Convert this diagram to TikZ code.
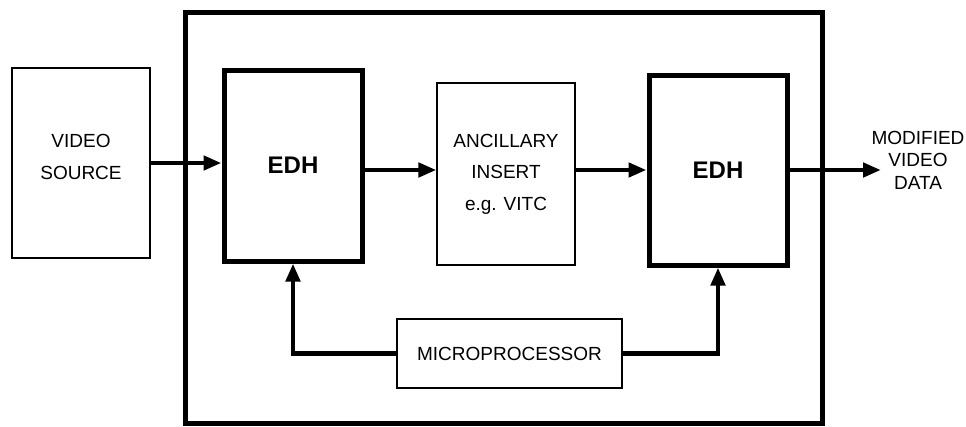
\documentclass[tikz,border=0pt]{standalone}
\usepackage{fontspec}
\setmainfont{Liberation Sans}
\usetikzlibrary{arrows.meta}
\begin{document}
\begin{tikzpicture}[x=1pt,y=-1pt,
  thinbox/.style={draw,line width=1.2pt,inner sep=0pt,align=center,font=\fontsize{19}{31.5}\selectfont},
  thickbox/.style={draw,line width=5pt,inner sep=0pt,align=center,font=\fontsize{24}{28}\selectfont\bfseries},
  flow/.style={line width=4.5pt,-{Triangle[length=18pt,width=14pt]}}]
\useasboundingbox (0,0) rectangle (966,426);
\draw[line width=5pt] (185,12) rectangle (822,423);
\node[thinbox,minimum width=138pt,minimum height=190pt,text depth=12pt] (video) at (81,163) {VIDEO\\SOURCE};
\node[thickbox,minimum width=138pt,minimum height=191pt] (edh1) at (293,165.5) {EDH};
\node[thinbox,minimum width=138pt,minimum height=182pt] (anc) at (506,174) {ANCILLARY\\INSERT\\e.g. VITC};
\node[thickbox,minimum width=138pt,minimum height=190pt] (edh2) at (718,170) {EDH};
\node[thinbox,minimum width=225pt,minimum height=69pt] (micro) at (509.5,353.5) {MICROPROCESSOR};
\coordinate (out) at (881,170);
\node[align=center,font=\fontsize{19}{22.5}\selectfont,inner sep=0pt] (outlbl) at (918,160) {MODIFIED\\VIDEO\\DATA};
\draw[flow] (video.east) -- (video.east -| edh1.west);
\draw[flow] (edh1.east |- edh2.west) -- (anc.west |- edh2.west);
\draw[flow] (anc.east |- edh2.west) -- (edh2.west);
\draw[flow] (edh2.east) -- (out);
\draw[flow,line join=miter] (micro.west) -| (edh1.south);
\draw[flow,line join=miter] (micro.east) -| (edh2.south);
\end{tikzpicture}
\end{document}
